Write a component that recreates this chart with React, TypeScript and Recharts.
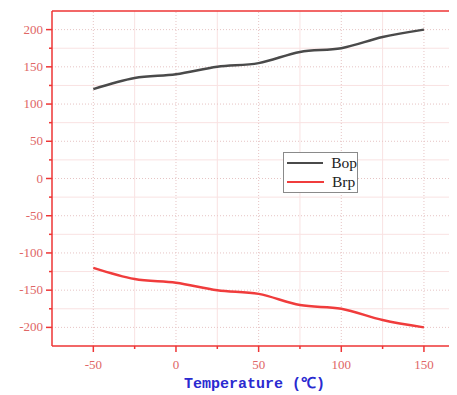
import React from 'react'
import {
  Line,
  LineChart,
  ReferenceLine,
  XAxis,
  YAxis,
} from 'recharts'

const temperatures = [-50, -25, 0, 25, 50, 75, 100, 125, 150]
const bopValues = [120, 135, 140, 150, 155, 170, 175, 190, 200]
const brpValues = [-120, -135, -140, -150, -155, -170, -175, -190, -200]

const xTicks = [-75, -50, -25, 0, 25, 50, 75, 100, 125, 150]
const yTicks = [-225, -200, -175, -150, -125, -100, -75, -50, -25, 0, 25, 50, 75, 100, 125, 150, 175, 200, 225]
const xGridMajor = [-50, 0, 50, 100, 150]
const xGridMinor = [-25, 25, 75, 125]
const yGridMajor = [-200, -150, -100, -50, 0, 50, 100, 150, 200]
const yGridMinor = [-175, -125, -75, -25, 25, 75, 125, 175]

const palette = {
  axis: '#ee3535',
  tickText: '#e06666',
  majorGrid: '#e6c4c4',
  minorGrid: '#f9e2e2',
  bop: '#4a4a4a',
  brp: '#f03c3c',
  label: '#2a2ad0',
}

const data = temperatures.map((t, i) => ({ t, bop: bopValues[i], brp: brpValues[i] }))

function YTick(props: any) {
  const { x, y, payload } = props
  const v = payload.value as number
  if (Math.abs(v) === 225) return null
  const major = v % 50 === 0
  return (
    <g>
      <line x1={x - (major ? 6 : 3)} x2={x} y1={y} y2={y} stroke={palette.axis} strokeWidth={1.5} />
      {major && (
        <text
          x={x - 9}
          y={y + 4}
          textAnchor="end"
          fill={palette.tickText}
          fontSize={13}
          fontFamily="Liberation Serif, serif"
        >
          {v}
        </text>
      )}
    </g>
  )
}

function XTick(props: any) {
  const { x, y, payload } = props
  const v = payload.value as number
  if (v === -75) return null
  const major = v % 50 === 0
  return (
    <g>
      <line x1={x} x2={x} y1={y} y2={y + (major ? 6 : 3)} stroke={palette.axis} strokeWidth={1.5} />
      {major && (
        <text
          x={x}
          y={y + 23}
          textAnchor="middle"
          fill={palette.tickText}
          fontSize={13}
          fontFamily="Liberation Serif, serif"
        >
          {v}
        </text>
      )}
    </g>
  )
}

function LegendBox() {
  const items = [
    { name: 'Bop', color: palette.bop },
    { name: 'Brp', color: palette.brp },
  ]
  return (
    <div
      style={{
        position: 'absolute',
        left: 275,
        top: 144,
        width: 73,
        height: 39,
        border: '1px solid #8a8a8a',
        background: '#fff',
        fontFamily: 'Liberation Serif, serif',
        fontSize: 15.5,
        color: '#222',
      }}
    >
      {items.map((item) => (
        <div key={item.name} style={{ display: 'flex', alignItems: 'center', height: 18, marginTop: 1 }}>
          <div style={{ width: 37, height: 2.5, background: item.color, marginLeft: 3, marginRight: 8 }} />
          <span>{item.name}</span>
        </div>
      ))}
    </div>
  )
}

export default function App() {
  return (
    <div style={{ position: 'relative', width: 449, height: 387, background: '#fff' }}>
      <LineChart width={449} height={387} data={data} margin={{ top: 3, right: 0, bottom: 0, left: 0 }}>
        {xGridMinor.map((v) => (
          <ReferenceLine key={`xm${v}`} x={v} stroke={palette.minorGrid} strokeWidth={1} />
        ))}
        {yGridMinor.map((v) => (
          <ReferenceLine key={`ym${v}`} y={v} stroke={palette.minorGrid} strokeWidth={1} />
        ))}
        {xGridMajor.map((v) => (
          <ReferenceLine key={`xM${v}`} x={v} stroke={palette.majorGrid} strokeDasharray="1 2" strokeWidth={1} />
        ))}
        {yGridMajor.map((v) => (
          <ReferenceLine key={`yM${v}`} y={v} stroke={palette.majorGrid} strokeDasharray="1 2" strokeWidth={1} />
        ))}
        <ReferenceLine y={225} stroke={palette.axis} strokeWidth={1.5} />
        <XAxis
          dataKey="t"
          type="number"
          domain={[-75, 170]}
          ticks={xTicks}
          interval={0}
          height={49}
          tickSize={0}
          tickMargin={0}
          tickLine={false}
          axisLine={{ stroke: palette.axis, strokeWidth: 1.5 }}
          tick={<XTick />}
          label={{
            value: 'Temperature (℃)',
            position: 'insideBottom',
            offset: 7,
            fill: palette.label,
            fontSize: 15,
            fontWeight: 600,
            fontFamily: 'Liberation Mono, monospace',
          }}
        />
        <YAxis
          type="number"
          domain={[-225, 225]}
          ticks={yTicks}
          interval={0}
          width={44}
          tickSize={0}
          tickMargin={0}
          tickLine={false}
          axisLine={{ stroke: palette.axis, strokeWidth: 1.5 }}
          tick={<YTick />}
        />
        <Line
          type="monotone"
          dataKey="bop"
          name="Bop"
          stroke={palette.bop}
          strokeWidth={2.5}
          dot={false}
          isAnimationActive={false}
        />
        <Line
          type="monotone"
          dataKey="brp"
          name="Brp"
          stroke={palette.brp}
          strokeWidth={2.5}
          dot={false}
          isAnimationActive={false}
        />
      </LineChart>
      <LegendBox />
    </div>
  )
}
